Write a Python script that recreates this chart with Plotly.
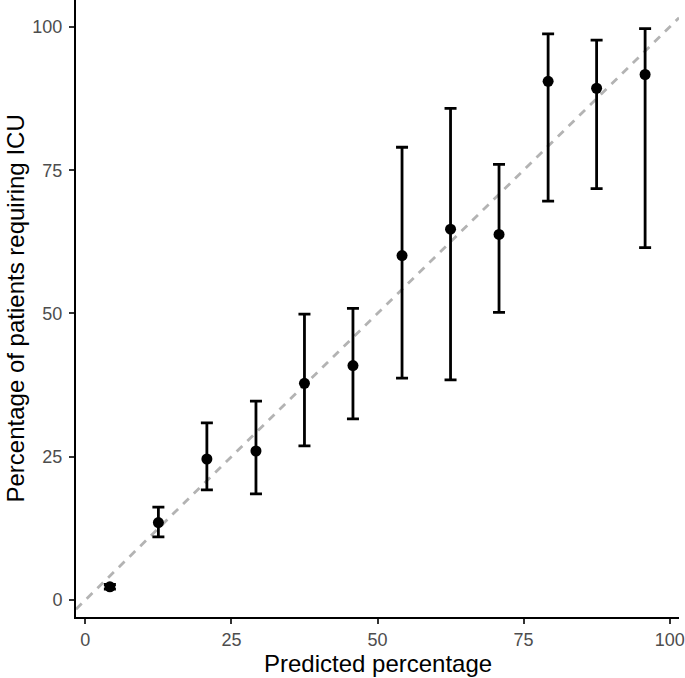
import plotly.graph_objects as go

predicted = [4.2, 12.5, 20.8, 29.2, 37.5, 45.8, 54.2, 62.5, 70.8, 79.2, 87.5, 95.8]
observed = [2.3, 13.5, 24.6, 26.0, 37.8, 40.9, 60.1, 64.7, 63.8, 90.5, 89.3, 91.7]
upper = [2.7, 16.2, 30.9, 34.7, 49.9, 50.9, 79.0, 85.8, 76.0, 98.8, 97.7, 99.7]
lower = [1.9, 11.0, 19.2, 18.5, 26.9, 31.6, 38.7, 38.4, 50.2, 69.6, 71.8, 61.5]
tick_vals = [0, 25, 50, 75, 100]
x_range = [-1.6, 101.6]
y_range = [-2.97, 104.7]

err_plus = [u - o for u, o in zip(upper, observed)]
err_minus = [o - l for o, l in zip(observed, lower)]

FONT = "Liberation Sans, Arial, Helvetica, sans-serif"

fig = go.Figure()
fig.add_trace(go.Scatter(
    x=x_range, y=x_range, mode="lines",
    line=dict(color="#B3B3B3", width=2.8, dash="8px,7px"),
    hoverinfo="skip", showlegend=False))
fig.add_trace(go.Scatter(
    x=predicted, y=observed, mode="markers",
    marker=dict(color="black", size=11),
    error_y=dict(type="data", symmetric=False, array=err_plus, arrayminus=err_minus,
                 color="black", thickness=2.8, width=6),
    showlegend=False))

axis_common = dict(
    showgrid=False, zeroline=False, showline=True, linecolor="black", linewidth=2,
    ticks="outside", ticklen=5, tickwidth=2, tickcolor="#333333",
    tickvals=tick_vals, tickfont=dict(family=FONT, size=18, color="#4D4D4D"),
    automargin=False,
)
fig.update_layout(
    width=685, height=678, plot_bgcolor="white", paper_bgcolor="white",
    margin=dict(l=76, r=6, t=0, b=61),
    xaxis=dict(range=x_range, **axis_common),
    yaxis=dict(range=y_range, ticklabelstandoff=3, **axis_common),
    annotations=[
        dict(text="Predicted percentage", xref="paper", yref="paper", x=0.5, y=0,
             yshift=-46, xanchor="center", yanchor="middle", showarrow=False,
             font=dict(family=FONT, size=24, color="black")),
        dict(text="Percentage of patients requiring ICU", xref="paper", yref="paper",
             x=0, y=0.5, xshift=-61, xanchor="center", yanchor="middle", textangle=-90,
             showarrow=False, font=dict(family=FONT, size=24, color="black")),
    ],
)
fig.write_html("out.html", config={"displayModeBar": False},
               post_script="document.body.style.margin='0';document.body.style.overflow='hidden';")
